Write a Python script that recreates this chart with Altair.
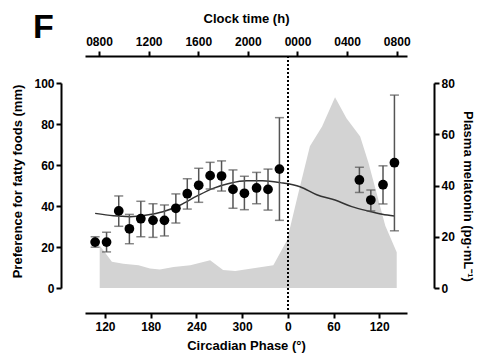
import altair as alt
import pandas as pd

# Preference for fatty foods (mean, error bar ends) vs circadian phase (unwrapped degrees)
phase_pts = [107, 122, 138, 152, 167, 183, 198, 213, 228, 243, 258, 273, 288, 303, 319, 334, 349, 454, 469, 485, 500]
pref_mean = [22.4, 22.4, 37.6, 28.9, 33.8, 33.0, 33.0, 38.9, 46.0, 50.1, 54.8, 54.6, 48.1, 46.2, 48.8, 48.1, 58.0, 52.7, 42.9, 50.4, 61.1]
pref_hi = [25.0, 27.2, 44.9, 35.9, 42.3, 41.1, 40.5, 45.9, 53.3, 58.4, 61.3, 62.0, 57.6, 54.5, 56.4, 58.0, 83.1, 58.9, 47.8, 59.6, 94.1]
pref_lo = [19.9, 17.6, 30.1, 21.6, 25.0, 24.7, 25.4, 31.7, 38.5, 41.8, 48.3, 47.3, 38.9, 38.2, 41.1, 38.0, 33.0, 46.6, 37.6, 41.0, 27.9]

# Plasma melatonin profile (pg/mL)
mel_phase = [113, 129, 144, 164, 179, 192, 210, 232, 258, 275, 291, 341, 359, 373, 389, 405, 422, 437, 455, 466, 488, 503]
mel_val = [16.6, 10.2, 9.5, 8.9, 7.6, 7.2, 8.2, 8.9, 10.8, 7.0, 6.6, 8.9, 18.6, 36.0, 55.3, 63.0, 74.4, 66.2, 59.1, 48.8, 24.3, 14.0]

# Fitted curve
fit_phase = [107, 131, 153, 175, 196, 219, 241, 262, 284, 306, 327, 350, 376, 398, 422, 444, 465, 484, 500]
fit_val = [36.4, 35.2, 34.8, 35.6, 37.2, 40.5, 44.9, 48.6, 51.1, 52.3, 52.3, 51.4, 49.4, 45.5, 42.9, 39.7, 37.6, 36.0, 35.1]

phase_ticks = [120, 180, 240, 300, 360, 420, 480]
clock_ticks = [8, 12, 16, 20, 24, 28, 32]

pts = pd.DataFrame({"phase": phase_pts, "mean": pref_mean, "hi": pref_hi, "lo": pref_lo})
mel = pd.DataFrame({"phase": mel_phase, "mel": mel_val})
fit = pd.DataFrame({"phase": fit_phase, "fit": fit_val})
clk = pd.DataFrame({"h": clock_ticks})

FONT = "Liberation Sans"
xscale = alt.Scale(domain=[93.7, 516.5], nice=False, zero=False)
xaxis = alt.Axis(values=phase_ticks, labelExpr="datum.value % 360", title="Circadian Phase (°)",
                 offset=25, labelPadding=3, titlePadding=7)
yscale = alt.Scale(domain=[0, 100], nice=False)
yaxis = alt.Axis(values=[0, 20, 40, 60, 80, 100], title="Preference for fatty foods (mm)",
                 offset=24, labelPadding=2, titlePadding=9, titleY=98)

X = alt.X("phase:Q", scale=xscale, axis=xaxis)

area = alt.Chart(mel).mark_area(color="#d3d3d3", opacity=1).encode(
    x=X,
    y=alt.Y("mel:Q", scale=alt.Scale(domain=[0, 80], nice=False),
            axis=alt.Axis(orient="right", values=[0, 20, 40, 60, 80],
                          title="Plasma melatonin (pg·mL⁻¹)", offset=27,
                          labelPadding=2, titlePadding=6, titleY=113)),
)

curve = alt.Chart(fit).mark_line(color="#333333", strokeWidth=1.5, interpolate="monotone").encode(
    x=X, y=alt.Y("fit:Q", scale=yscale, axis=yaxis)
)
bars = alt.Chart(pts).mark_rule(color="#555555", strokeWidth=1.5).encode(
    x=X, y=alt.Y("lo:Q", scale=yscale, axis=yaxis), y2="hi:Q"
)
cap_hi = alt.Chart(pts).mark_tick(color="#555555", orient="horizontal", size=9, thickness=1.5).encode(
    x=X, y=alt.Y("hi:Q", scale=yscale, axis=yaxis)
)
cap_lo = alt.Chart(pts).mark_tick(color="#555555", orient="horizontal", size=9, thickness=1.5).encode(
    x=X, y=alt.Y("lo:Q", scale=yscale, axis=yaxis)
)
dots = alt.Chart(pts).mark_circle(color="black", opacity=1, size=95).encode(
    x=X, y=alt.Y("mean:Q", scale=yscale, axis=yaxis)
)
dotted = alt.Chart(pts).mark_rule(color="black", strokeWidth=1.5, strokeDash=[2, 2]).encode(
    x=alt.datum(360), y=alt.value(-27), y2=alt.value(227)
)

left = alt.layer(curve, bars, cap_hi, cap_lo, dots, dotted)
inner = alt.layer(area, left).resolve_scale(y="independent")

top = alt.Chart(clk).mark_point(opacity=0).encode(
    x=alt.X("h:Q", scale=alt.Scale(domain=[6.87, 32.83], nice=False, zero=False),
            axis=alt.Axis(orient="top", values=clock_ticks,
                          labelExpr="(datum.value % 24 < 10 ? '0' : '') + (datum.value % 24) + '00'",
                          title="Clock time (h)", offset=27, labelPadding=3, titlePadding=10)),
    y=alt.value(0),
)

chart = alt.layer(inner, top).resolve_scale(x="independent").properties(
    width=322, height=205,
    autosize=alt.AutoSizeParams(type="none"),
    padding={"left": 85, "top": 83, "right": 75, "bottom": 75},
    title=alt.TitleParams("F", anchor="start", frame="group", fontSize=34, font=FONT,
                          fontWeight="bold", color="black", dx=-52, dy=33, offset=0),
).configure_view(stroke=None).configure_axis(
    domainColor="black", domainWidth=2, tickColor="black", tickWidth=2, tickSize=5,
    labelFont=FONT, labelFontWeight="bold", labelFontSize=12, labelColor="black",
    titleFont=FONT, titleFontWeight="bold", titleFontSize=13, titleColor="black",
    grid=False,
)

chart.save("out.html", embed_options={"renderer": "svg", "actions": False})
